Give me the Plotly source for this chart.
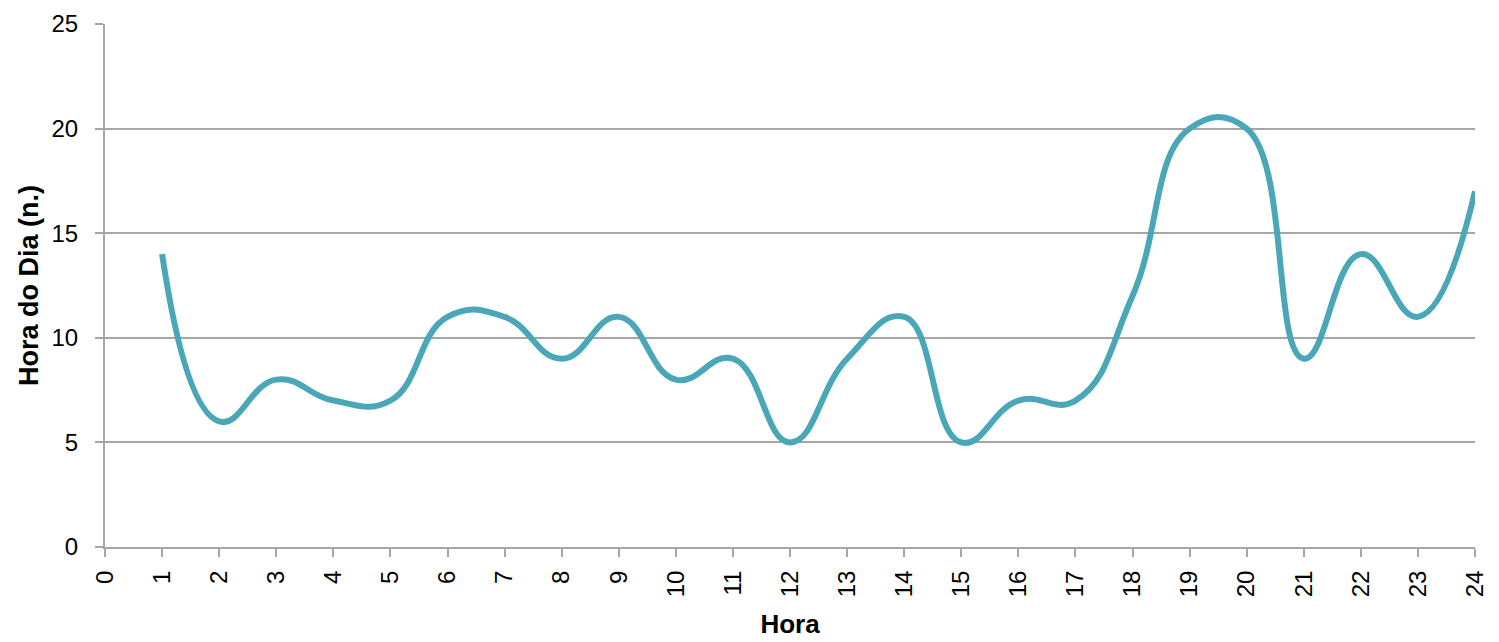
import plotly.graph_objects as go

hours = list(range(1, 25))
values = [14, 6, 8, 7, 7, 11, 11, 9, 11, 8, 9, 5, 9, 11, 5, 7, 7, 12, 20, 20, 9, 14, 11, 17]
x_ticks = list(range(0, 25))

fig = go.Figure()
fig.add_trace(go.Scatter(
    x=hours, y=values, mode="lines",
    line=dict(color="#4AA7B8", width=6, shape="spline", smoothing=1.3),
    showlegend=False,
))

fam = "Liberation Sans, Arial, sans-serif"
tickfont = dict(family=fam, size=24, color="#000000")

fig.update_layout(
    width=1491, height=634,
    margin=dict(l=97, r=24, t=16, b=95),
    paper_bgcolor="white", plot_bgcolor="white",
    font=dict(family=fam, size=24, color="#000000"),
    xaxis=dict(
        range=[0, 24], tickmode="array", tickvals=x_ticks,
        ticktext=[str(v) for v in x_ticks], tickangle=-90, tickfont=tickfont,
        showgrid=False, showline=True, linecolor="#A6A6A6", linewidth=2,
        ticks="outside", ticklen=8, tickcolor="#A6A6A6", tickwidth=2,
        ticklabelstandoff=4,
        zeroline=False, automargin=False,
        title=dict(text="<b>Hora</b>", font=dict(family=fam, size=26, color="#000000"), standoff=18),
    ),
    yaxis=dict(
        range=[0, 25], tickvals=[0, 5, 10, 15, 20, 25], tickfont=tickfont,
        showgrid=True, gridcolor="#A6A6A6", gridwidth=2,
        showline=True, linecolor="#A6A6A6", linewidth=2,
        ticks="outside", ticklen=8, tickcolor="#A6A6A6", tickwidth=2,
        ticklabelstandoff=12,
        zeroline=False, automargin=False,
        title=dict(text="<b>Hora do Dia (n.)</b>", font=dict(family=fam, size=27, color="#000000"), standoff=5),
    ),
)

fig.write_html("out.html")
